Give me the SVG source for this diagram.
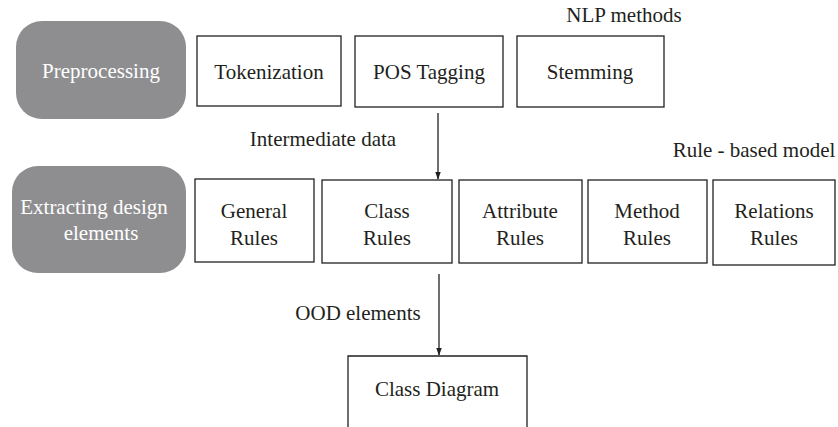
<svg xmlns="http://www.w3.org/2000/svg" width="838" height="427" viewBox="0 0 838 427">
<style>
  text { font-family: "Liberation Serif", serif; font-size: 21px; fill: #231f20; text-anchor: middle; }
  .w { fill: #ffffff; }
  .box { fill: #ffffff; stroke: #231f20; stroke-width: 1.3; }
  .gray { fill: #8e8e90; }
  .conn { stroke: #231f20; stroke-width: 1.3; fill: none; }
</style>
<defs>
  <marker id="ah2" markerWidth="8" markerHeight="10" refX="9" refY="3.5" orient="auto" markerUnits="userSpaceOnUse" viewBox="0 0 10 7">
    <path d="M0,0 L10,3.5 L0,7 Z" fill="#231f20"/>
  </marker>
</defs>
<g font-family="Liberation Serif, serif">
<text x="624" y="22">NLP methods</text>
<text x="323" y="146">Intermediate data</text>
<text x="754" y="157">Rule - based model</text>
<text x="358" y="320">OOD elements</text>
</g>

<g id="preprocessing" font-family="Liberation Serif, serif">
  <rect class="gray" x="16" y="21" width="170" height="98" rx="26" ry="26"/>
  <text class="w" x="101" y="78">Preprocessing</text>
</g>
<g id="tokenization" font-family="Liberation Serif, serif">
  <rect class="box" x="197" y="36" width="144" height="70"/>
  <text x="269" y="79">Tokenization</text>
</g>
<g id="pos-tagging" font-family="Liberation Serif, serif">
  <rect class="box" x="355" y="36" width="148" height="71"/>
  <text x="429" y="79">POS Tagging</text>
</g>
<g id="stemming" font-family="Liberation Serif, serif">
  <rect class="box" x="517" y="36" width="147" height="71"/>
  <text x="590" y="79">Stemming</text>
</g>

<g id="extracting" font-family="Liberation Serif, serif">
  <rect class="gray" x="12" y="166" width="174" height="107" rx="26" ry="26"/>
  <text class="w" x="94" y="214">Extracting design</text>
  <text class="w" x="101" y="240">elements</text>
</g>
<g id="general-rules" font-family="Liberation Serif, serif">
  <rect class="box" x="195" y="179" width="119" height="83"/>
  <text x="254" y="218">General</text>
  <text x="254" y="245">Rules</text>
</g>
<g id="class-rules" font-family="Liberation Serif, serif">
  <rect class="box" x="322" y="180" width="130" height="83"/>
  <text x="387" y="218">Class</text>
  <text x="387" y="245">Rules</text>
</g>
<g id="attribute-rules" font-family="Liberation Serif, serif">
  <rect class="box" x="459" y="180" width="123" height="83"/>
  <text x="520" y="218">Attribute</text>
  <text x="520" y="245">Rules</text>
</g>
<g id="method-rules" font-family="Liberation Serif, serif">
  <rect class="box" x="588" y="180" width="119" height="83"/>
  <text x="647" y="218">Method</text>
  <text x="647" y="245">Rules</text>
</g>
<g id="relations-rules" font-family="Liberation Serif, serif">
  <rect class="box" x="713" y="180" width="122" height="85"/>
  <text x="774" y="218">Relations</text>
  <text x="774" y="245">Rules</text>
</g>
<g id="class-diagram" font-family="Liberation Serif, serif">
  <path class="box" d="M348,428 L348,356 L527,356 L527,428"/>
  <text x="437" y="396">Class Diagram</text>
</g>

<g id="connectors">
  <line class="conn" x1="438" y1="113" x2="438" y2="179" marker-end="url(#ah2)"/>
  <line class="conn" x1="439" y1="274" x2="439" y2="355" marker-end="url(#ah2)"/>
</g>
</svg>
